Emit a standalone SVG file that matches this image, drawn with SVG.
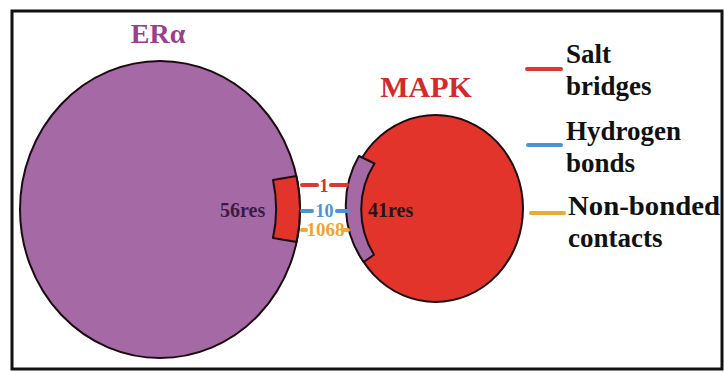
<svg xmlns="http://www.w3.org/2000/svg" width="724" height="373" viewBox="0 0 724 373" font-family="'Liberation Serif', Tinos, 'Times New Roman', Times, serif">
  <style>
    text { font-family: 'Liberation Serif', Tinos, 'Times New Roman', Times, serif; font-weight: 700; }
    .outline { stroke: #1c0c12; stroke-width: 2; stroke-linejoin: round; }
    .purple { fill: #a56aa5; }
    .red { fill: #e2342b; }
    .bond { stroke-width: 4; stroke-linecap: round; fill: none; }
    .salt { stroke: #e0362e; }
    .hbond { stroke: #4c93d2; }
    .nonb { stroke: #efaa2e; }
    .count { font-size: 18px; text-anchor: middle; }
    .res { font-size: 20px; }
    .legend { font-size: 27px; fill: #111; }
  </style>

  <!-- frame -->
  <rect x="0" y="0" width="724" height="373" fill="#ffffff"/>
  <rect x="12" y="11" width="710" height="358" fill="none" stroke="#111" stroke-width="3"/>

  <!-- ERα protein with its interface patch -->
  <g id="era">
    <text x="158" y="43" font-size="28" fill="#9a3f8e" text-anchor="middle">ERα</text>
    <ellipse cx="160" cy="209.5" rx="140" ry="148.5" class="purple outline"/>
    <path d="M273,180 L296.4,176 A140,148.5 0 0 1 296.6,242 L273,238 A120,128 0 0 0 273,180 Z" class="red outline"/>
    <text x="220" y="217" class="res" fill="#3d1a44">56res</text>
  </g>

  <!-- MAPK protein with its interface patch -->
  <g id="mapk">
    <text x="426" y="97" font-size="30" fill="#d42a2a" text-anchor="middle">MAPK</text>
    <ellipse cx="435.5" cy="208.5" rx="87.5" ry="93.5" class="red outline"/>
    <path d="M359,156 A87.5,93.5 0 0 0 363.7,262 L374,254.8 A75,81 0 0 1 374.5,163.5 Z" class="purple outline"/>
    <text x="368" y="217" class="res" fill="#2d1216">41res</text>
  </g>

  <!-- interface contacts between the two proteins -->
  <g id="connectors">
    <line x1="302" y1="185" x2="317" y2="185" class="bond salt"/>
    <line x1="331" y1="185" x2="347" y2="185" class="bond salt"/>
    <line x1="302" y1="211" x2="312" y2="211" class="bond hbond"/>
    <line x1="337" y1="211" x2="347" y2="211" class="bond hbond"/>
    <line x1="302" y1="230" x2="306" y2="230" class="bond nonb"/>
    <line x1="344" y1="230" x2="348" y2="230" class="bond nonb"/>
    <text x="324" y="192" class="count" fill="#d83030">1</text>
    <text x="324.5" y="217" class="count" fill="#4c93d2">10</text>
    <text x="325.5" y="236" class="count" font-size="17" fill="#efa52c" textLength="38" lengthAdjust="spacingAndGlyphs">1068</text>
  </g>

  <!-- legend -->
  <g id="legend">
    <line x1="527" y1="69" x2="561" y2="69" class="bond salt" stroke-width="5"/>
    <text x="566" y="63" class="legend">Salt</text>
    <text x="566" y="95" class="legend">bridges</text>
    <line x1="528" y1="145" x2="561" y2="145" class="bond hbond" stroke-width="5"/>
    <text x="566" y="140" class="legend">Hydrogen</text>
    <text x="566" y="172" class="legend">bonds</text>
    <line x1="531" y1="213" x2="564" y2="213" class="bond nonb" stroke-width="5"/>
    <text x="568" y="215" class="legend" textLength="152" lengthAdjust="spacingAndGlyphs">Non-bonded</text>
    <text x="568" y="247" class="legend">contacts</text>
  </g>
</svg>
